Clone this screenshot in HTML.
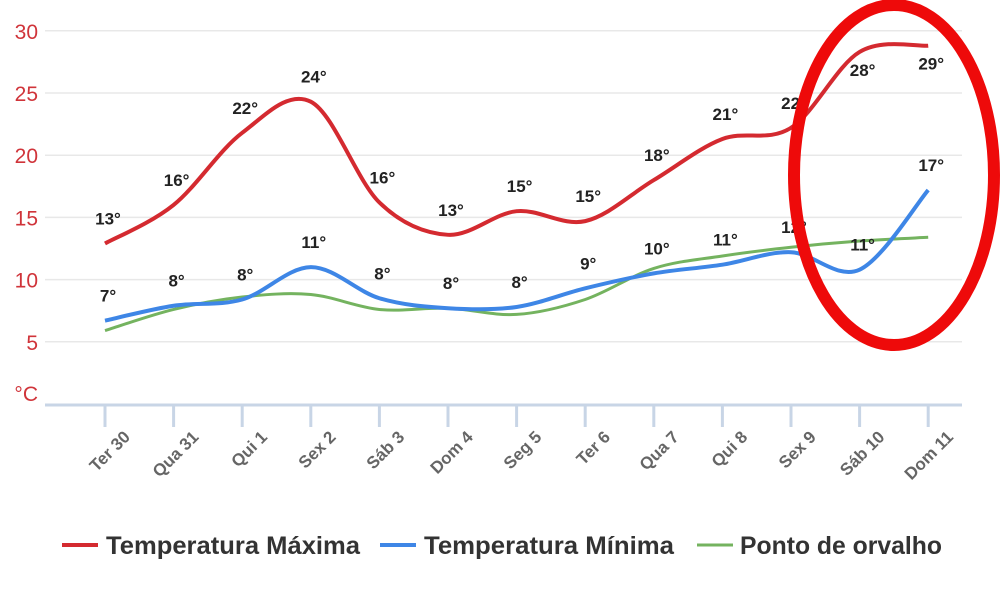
<!DOCTYPE html>
<html><head><meta charset="utf-8"><style>
body{margin:0;background:#fff;}
svg{display:block;font-family:"Liberation Sans",sans-serif;}
</style></head><body>
<svg id="chart" width="1000" height="594" viewBox="0 0 1000 594">
<g id="grid"></g>
<g id="yaxis"></g>
<g id="xaxis"></g>
<g id="series"></g>
<ellipse cx="894" cy="175" rx="100" ry="170" fill="none" stroke="#ee0a0a" stroke-width="12"/>
<g font-size="25" font-weight="bold" fill="#333">
 <g><line x1="62" y1="545" x2="98" y2="545" stroke="#d42a30" stroke-width="4"/><text x="106" y="554" textLength="254" lengthAdjust="spacingAndGlyphs">Temperatura Máxima</text></g>
 <g><line x1="380" y1="545" x2="416" y2="545" stroke="#3e86e6" stroke-width="4"/><text x="424" y="554" textLength="250" lengthAdjust="spacingAndGlyphs">Temperatura Mínima</text></g>
 <g><line x1="697" y1="545" x2="733" y2="545" stroke="#74b35f" stroke-width="3"/><text x="740" y="554" textLength="202" lengthAdjust="spacingAndGlyphs">Ponto de orvalho</text></g>
</g>
</svg>
<script>
const categories=["Ter 30","Qua 31","Qui 1","Sex 2","Sáb 3","Dom 4","Seg 5","Ter 6","Qua 7","Qui 8","Sex 9","Sáb 10","Dom 11"];
const maxTemp=[12.9,16,21.8,24.3,16.2,13.6,15.5,14.7,18,21.3,22.2,28.3,28.8];
const maxLabels=[13,16,22,24,16,13,15,15,18,21,22,28,29];
const minTemp=[6.7,7.9,8.4,11,8.5,7.7,7.8,9.3,10.5,11.2,12.2,10.8,17.2];
const minLabels=[7,8,8,11,8,8,8,9,10,11,12,11,17];
const dewPoint=[5.9,7.6,8.6,8.8,7.6,7.7,7.2,8.4,10.9,11.9,12.6,13.1,13.4];
const yTicks=[5,10,15,20,25,30];
const NS="http://www.w3.org/2000/svg";
const x=i=>105+i*68.6;
const y=v=>404-12.44*v;
function mk(tag,attrs,parent){const e=document.createElementNS(NS,tag);for(const k in attrs)e.setAttribute(k,attrs[k]);parent.appendChild(e);return e;}
const grid=document.getElementById('grid'),ya=document.getElementById('yaxis'),xa=document.getElementById('xaxis'),se=document.getElementById('series');
yTicks.forEach(t=>{
 const l=mk('line',{x1:45,x2:962,y1:y(t),y2:y(t),stroke:'#e8e8e8','stroke-width':1.5},grid);
 
 
 const tx=mk('text',{x:38,y:y(t)+8,'text-anchor':'end','font-size':21,fill:'#d0343a'},ya);
 tx.textContent=t;
 
 
});
const u=mk('text',{x:38,y:401,'text-anchor':'end','font-size':21,fill:'#d0343a'},ya);u.textContent='°C';


mk('line',{x1:45,x2:962,y1:405,y2:405,stroke:'#c8d5e6','stroke-width':3},xa);
categories.forEach((c,i)=>{
 mk('line',{x1:x(i),x2:x(i),y1:405,y2:427,stroke:'#c8d5e6','stroke-width':3},xa);
 const ax=x(i)+26,ay=438;
 const t=mk('text',{x:ax,y:ay,'text-anchor':'end','font-size':17,'font-weight':'bold',fill:'#666',transform:`rotate(-45 ${ax} ${ay})`},xa);
 t.textContent=c;
 
 
});
function path(vals){
 const p=vals.map((v,i)=>[x(i),y(v)]);let d=`M${p[0][0]},${p[0][1]}`;
 for(let i=0;i<p.length-1;i++){const p0=p[i-1]||p[i],p1=p[i],p2=p[i+1],p3=p[i+2]||p2;
  const c1=[p1[0]+(p2[0]-p0[0])/6,p1[1]+(p2[1]-p0[1])/6],c2=[p2[0]-(p3[0]-p1[0])/6,p2[1]-(p3[1]-p1[1])/6];
  d+=`C${c1[0]},${c1[1]} ${c2[0]},${c2[1]} ${p2[0]},${p2[1]}`;}
 return d;}
const dl=mk('path',{d:path(dewPoint),fill:'none',stroke:'#74b35f','stroke-width':3},se);


const ml=mk('path',{d:path(minTemp),fill:'none',stroke:'#3e86e6','stroke-width':4},se);


const xl=mk('path',{d:path(maxTemp),fill:'none',stroke:'#d42a30','stroke-width':4},se);


function labels(vals,labs,name){vals.forEach((v,i)=>{
 let ly=y(v)-19;
 if(ly<45) ly=y(v)+24;
 const t=mk('text',{x:x(i)+3,y:ly,'text-anchor':'middle','font-size':17,'font-weight':'bold',fill:'#222'},se);
 t.textContent=labs[i]+'°';
 
 });}
labels(maxTemp,maxLabels,'max-value-label');
labels(minTemp,minLabels,'min-value-label');
</script>
</body></html>
